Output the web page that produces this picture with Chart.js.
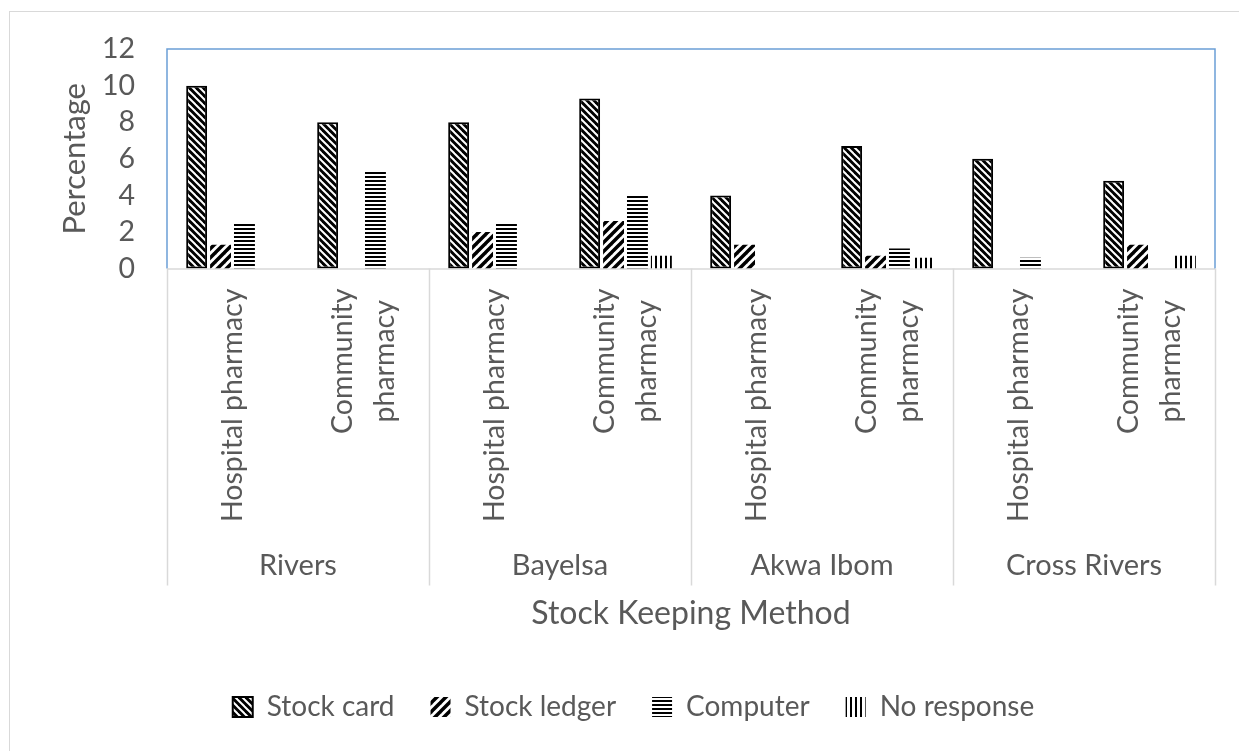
<!DOCTYPE html>
<html>
<head>
<meta charset="utf-8">
<script src="https://cdn.jsdelivr.net/npm/chart.js@4.4.1/dist/chart.umd.min.js"></script>
<style>
  body { margin: 0; background: #fff; }
  #wrap { width: 1239px; height: 751px; }
</style>
</head>
<body>
<div id="wrap"><canvas id="chart" width="1239" height="751"></canvas></div>
<script>
const groups = ['Rivers', 'Bayelsa', 'Akwa Ibom', 'Cross Rivers'];
const categories = [
  'Hospital pharmacy', ['Community', 'pharmacy'],
  'Hospital pharmacy', ['Community', 'pharmacy'],
  'Hospital pharmacy', ['Community', 'pharmacy'],
  'Hospital pharmacy', ['Community', 'pharmacy']
];
const stockCard = [10, 8, 8, 9.3, 4, 6.7, 6, 4.8];
const stockLedger = [1.3, 0, 2, 2.6, 1.3, 0.7, 0, 1.3];
const computer = [2.5, 5.3, 2.5, 4, 0, 1.1, 0.6, 0];
const noResponse = [0, 0, 0, 0.7, 0, 0.6, 0, 0.7];
const yTicks = [0, 2, 4, 6, 8, 10, 12];

const fontFamily = 'Lato, sans-serif';
const textColor = '#595959';

// Small tiles used as fill patterns
function makePattern(size, draw) {
  const c = document.createElement('canvas');
  c.width = size; c.height = size;
  const g = c.getContext('2d');
  draw(g, size);
  return g.createPattern(c, 'repeat');
}

const cardPattern = makePattern(7, (g, s) => {
  g.fillStyle = '#000'; g.fillRect(0, 0, s, s);
  g.strokeStyle = '#fff'; g.lineWidth = 2;
  for (let k = -1; k <= 1; k++) {
    g.beginPath(); g.moveTo(k * s - 1, -1); g.lineTo(k * s + s + 1, s + 1); g.stroke();
  }
});
const ledgerPattern = makePattern(9, (g, s) => {
  g.fillStyle = '#fff'; g.fillRect(0, 0, s, s);
  g.strokeStyle = '#000'; g.lineWidth = 3.5;
  for (let k = 0; k <= 2; k++) {
    g.beginPath(); g.moveTo(k * s - s - 1, s + 1); g.lineTo(k * s + 1, -1); g.stroke();
  }
});
const computerPattern = makePattern(4, (g, s) => {
  g.fillStyle = '#fff'; g.fillRect(0, 0, s, s);
  g.fillStyle = '#000'; g.fillRect(0, 0, s, 2);
});
const noRespPattern = makePattern(5, (g, s) => {
  g.fillStyle = '#fff'; g.fillRect(0, 0, s, s);
  g.fillStyle = '#000'; g.fillRect(0, 0, 2, s);
});

const frame = {
  id: 'frame',
  beforeDraw(chart) {
    const ctx = chart.ctx;
    ctx.save();
    ctx.fillStyle = '#fff';
    ctx.fillRect(0, 0, chart.width, chart.height);
    ctx.strokeStyle = '#d9d9d9';
    ctx.lineWidth = 1;
    ctx.strokeRect(9.5, 11.5, chart.width + 10, chart.height + 10);
    ctx.restore();
  },
  beforeDatasetsDraw(chart) {
    const { ctx, chartArea: a } = chart;
    ctx.save();
    ctx.lineWidth = 1.5;
    ctx.strokeStyle = '#d9d9d9';
    ctx.beginPath(); ctx.moveTo(a.left, a.bottom + 0.5); ctx.lineTo(a.right, a.bottom + 0.5); ctx.stroke();
    ctx.strokeStyle = '#6b9fd6';
    ctx.beginPath();
    ctx.moveTo(a.left, a.bottom); ctx.lineTo(a.left, a.top); ctx.lineTo(a.right, a.top); ctx.lineTo(a.right, a.bottom);
    ctx.stroke();
    ctx.restore();
  }
};

// Two-level category axis: rotated sub labels, group names and separators
const multiLevel = {
  id: 'multiLevel',
  afterDraw(chart) {
    const { ctx, chartArea: a } = chart;
    const x = chart.scales.x;
    ctx.save();
    ctx.strokeStyle = '#d9d9d9';
    ctx.lineWidth = 1.5;
    const edges = [a.left];
    for (let g = 1; g < groups.length; g++) {
      edges.push((x.getPixelForValue(g * 2 - 1) + x.getPixelForValue(g * 2)) / 2);
    }
    edges.push(a.right);
    edges.forEach(ex => {
      ctx.beginPath(); ctx.moveTo(Math.round(ex) + 0.5, a.bottom); ctx.lineTo(Math.round(ex) + 0.5, a.bottom + 317); ctx.stroke();
    });

    ctx.fillStyle = textColor;
    ctx.font = `28.5px ${fontFamily}`;
    ctx.textAlign = 'center';
    ctx.textBaseline = 'middle';
    const lh = 42;
    categories.forEach((lab, i) => {
      const lines = Array.isArray(lab) ? lab : [lab];
      const w = Math.max(...lines.map(l => ctx.measureText(l).width));
      const px = x.getPixelForValue(i);
      ctx.save();
      ctx.translate(px, a.bottom + 20 + w / 2);
      ctx.rotate(-Math.PI / 2);
      lines.forEach((l, j) => ctx.fillText(l, 0, (j - (lines.length - 1) / 2) * lh));
      ctx.restore();
    });

    ctx.font = `29px ${fontFamily}`;
    groups.forEach((g, i) => {
      ctx.fillText(g, (edges[i] + edges[i + 1]) / 2, a.bottom + 297);
    });
    ctx.restore();
  }
};

const common = { categoryPercentage: 0.73, barPercentage: 0.875, borderSkipped: false };

new Chart(document.getElementById('chart'), {
  type: 'bar',
  data: {
    labels: categories,
    datasets: [
      { label: 'Stock card', data: stockCard, backgroundColor: cardPattern, borderColor: '#000', borderWidth: 2, ...common },
      { label: 'Stock ledger', data: stockLedger, backgroundColor: ledgerPattern, borderWidth: 0, ...common },
      { label: 'Computer', data: computer, backgroundColor: computerPattern, borderWidth: 0, ...common },
      { label: 'No response', data: noResponse, backgroundColor: noRespPattern, borderWidth: 0, ...common }
    ]
  },
  options: {
    responsive: false,
    animation: false,
    layout: { padding: { left: 52, top: 47, right: 24, bottom: 20 } },
    scales: {
      x: {
        grid: { display: false, drawTicks: false },
        border: { display: false },
        ticks: { display: false },
        title: {
          display: true, text: 'Stock Keeping Method', color: textColor,
          font: { family: fontFamily, size: 32 }, padding: { top: 326, bottom: 24 }
        }
      },
      y: {
        min: 0, max: 12,
        afterBuildTicks: (axis) => { axis.ticks = yTicks.map(v => ({ value: v })); },
        afterFit: (axis) => { axis.width = 115; },
        grid: { display: false, drawTicks: false },
        border: { display: false },
        ticks: { color: textColor, font: { family: fontFamily, size: 28.5 }, padding: 32, autoSkip: false },
        title: {
          display: true, text: 'Percentage', color: textColor,
          font: { family: fontFamily, size: 31 }, padding: { top: 4, bottom: 4 }
        }
      }
    },
    plugins: {
      legend: {
        position: 'bottom',
        labels: {
          color: textColor, font: { family: fontFamily, size: 28 },
          boxWidth: 20, boxHeight: 20, padding: 36
        }
      },
      tooltip: { enabled: false }
    }
  },
  plugins: [frame, multiLevel]
});
</script>
</body>
</html>
